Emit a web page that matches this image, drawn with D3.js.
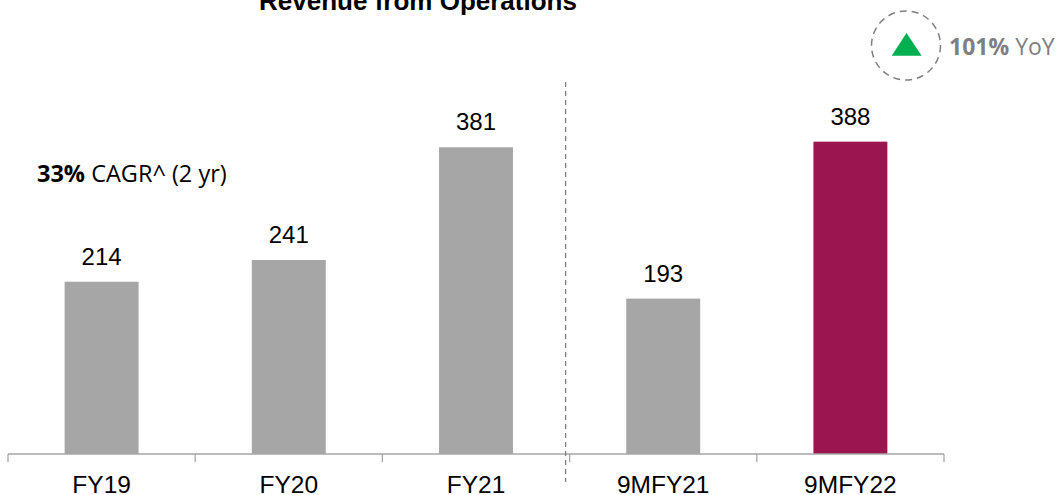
<!DOCTYPE html>
<html><head><meta charset="utf-8">
<script src="https://cdn.jsdelivr.net/npm/d3@7"></script>
<style>body{margin:0;background:#fff}svg{display:block}</style>
</head><body><svg id="c" width="1058" height="495"></svg>
<script>
const categories = ["FY19","FY20","FY21","9MFY21","9MFY22"];
const values = [214, 241, 381, 193, 388];
const highlight = ["9MFY22"];
const title = "Revenue from Operations";
const cagrBold = "33%", cagrRest = " CAGR^ (2 yr)";
const yoyBold = "101%", yoyRest = " YoY";

const svg = d3.select("#c");
const x = d3.scaleBand().domain(categories).range([8, 944]).padding(0);
const y = d3.scaleLinear().domain([0, 450]).range([454, 91.75]);
const bw = x.bandwidth() * 0.395;

svg.append("text").attr("x", 418).attr("y", 10).attr("text-anchor", "middle")
  .style("font-family", "Arial, 'Liberation Sans'").style("font-weight", "bold")
  .style("font-size", "26px").attr("fill", "#000").text(title);

svg.selectAll("rect.bar").data(categories).join("rect").attr("class", "bar")
  .attr("x", d => x(d) + (x.bandwidth() - bw) / 2)
  .attr("width", bw)
  .attr("y", (d, i) => y(values[i]))
  .attr("height", (d, i) => y(0) - y(values[i]))
  .attr("fill", d => highlight.includes(d) ? "#9B1650" : "#A6A6A6");

svg.selectAll("text.val").data(categories).join("text").attr("class", "val")
  .attr("x", d => x(d) + x.bandwidth() / 2)
  .attr("y", (d, i) => y(values[i]) - 17)
  .attr("text-anchor", "middle")
  .style("font-family", "Arial, 'Liberation Sans'").style("font-size", "24px")
  .attr("fill", "#000").text((d, i) => values[i]);

// axis
const axis = d3.axisBottom(x).tickSize(0).tickPadding(0);
const ax = svg.append("g").attr("transform", "translate(0,454)").call(axis);
ax.select(".domain").attr("stroke", "#A6A6A6").attr("stroke-width", 1.3).attr("d", "M8,0H944");
ax.selectAll(".tick text").attr("y", 39).attr("dy", 0)
  .style("font-family", "Arial, 'Liberation Sans'").style("font-size", "24.5px").attr("fill", "#000");
const bounds = categories.map(d => x(d)).concat([x.range()[1]]);
svg.selectAll("line.tk").data(bounds).join("line").attr("class", "tk")
  .attr("x1", d => d).attr("x2", d => d).attr("y1", 454).attr("y2", 462)
  .attr("stroke", "#A6A6A6").attr("stroke-width", 1.3);

// divider
const divX = x("9MFY21") - 4;
svg.append("line").attr("x1", divX).attr("x2", divX).attr("y1", 82).attr("y2", 482)
  .attr("stroke", "#7F7F7F").attr("stroke-width", 1.3).attr("stroke-dasharray", "5,4");

// CAGR text
const ct = svg.append("text").attr("x", 37).attr("y", 182)
  .style("font-family", "'Open Sans', sans-serif").style("font-size", "23.5px").attr("fill", "#000");
ct.append("tspan").style("font-weight", "bold").text(cagrBold);
ct.append("tspan").text(cagrRest);

// YoY badge
svg.append("circle").attr("cx", 906).attr("cy", 45.5).attr("r", 34.5)
  .attr("fill", "none").attr("stroke", "#7F7F7F").attr("stroke-width", 1.5).attr("stroke-dasharray", "7,5");
svg.append("path").attr("d", "M906.5,33L921.7,55.7L891.7,55.7Z").attr("fill", "#00B050");
const yt = svg.append("text").attr("x", 949).attr("y", 54.5)
  .style("font-family", "'Open Sans', sans-serif").style("font-size", "23px").attr("fill", "#7F7F7F");
yt.append("tspan").style("font-weight", "bold").text(yoyBold);
yt.append("tspan").text(yoyRest);
</script></body></html>
